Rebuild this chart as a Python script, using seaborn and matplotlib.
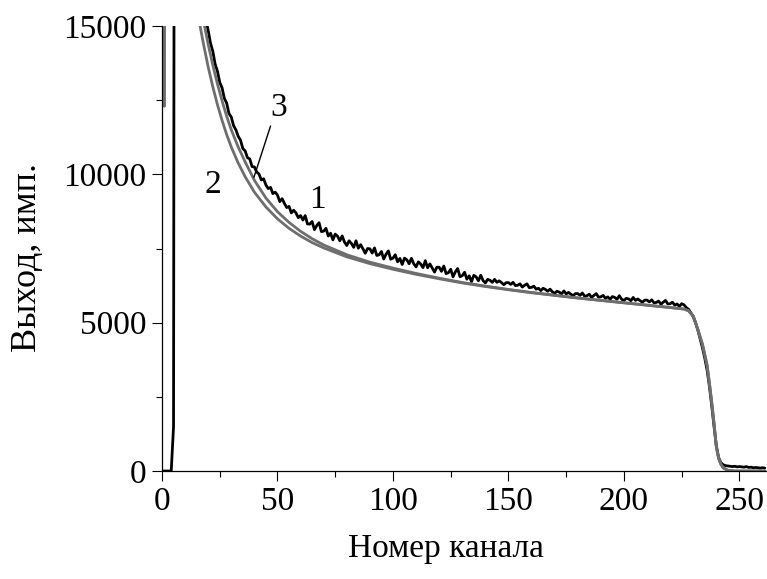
import matplotlib
matplotlib.use("Agg")
import matplotlib.pyplot as plt
import seaborn as sns
from matplotlib.ticker import MultipleLocator

# ---- data ----
# curve 1 (measured spectrum), one value per channel 0..261
channels = list(range(262))
curve1 = [
    0, 0, 0, 0, 0, 1500, 70000, 58000, 48000, 41000,
    35000, 30500, 26500, 23300, 20800, 18800, 17300, 16200, 15600, 15200,
    14850, 14420, 14150, 13720, 13480, 13100, 12920, 12560, 12400, 12050,
    11930, 11640, 11500, 11280, 11150, 10870, 10790, 10560, 10520, 10260,
    10250, 10080, 10010, 9810, 9850, 9640, 9520, 9560, 9350, 9400,
    9300, 9080, 9180, 9020, 8880, 8920, 8700, 8790, 8700, 8540,
    8610, 8460, 8610, 8325, 8325, 8410, 8135, 8275, 8370, 8070,
    8085, 8180, 7920, 8015, 7790, 7985, 7915, 7760, 7925, 7720,
    7600, 7760, 7670, 7540, 7760, 7510, 7630, 7490, 7340, 7500,
    7490, 7345, 7520, 7265, 7290, 7400, 7145, 7305, 7420, 7140,
    7175, 7290, 7050, 7165, 6960, 7175, 7120, 6985, 7170, 6985,
    6880, 7050, 6975, 6855, 7090, 6850, 6980, 6845, 6705, 6870,
    6870, 6730, 6910, 6655, 6685, 6800, 6545, 6710, 6825, 6550,
    6585, 6700, 6465, 6580, 6380, 6595, 6545, 6410, 6600, 6420,
    6340, 6460, 6430, 6360, 6460, 6360, 6410, 6350, 6280, 6350,
    6350, 6290, 6360, 6250, 6260, 6310, 6200, 6260, 6310, 6180,
    6190, 6230, 6130, 6160, 6080, 6160, 6120, 6060, 6130, 6040,
    5990, 6060, 6030, 5970, 6070, 5970, 6020, 5960, 5910, 5980,
    5980, 5920, 6000, 5890, 5910, 5960, 5850, 5920, 5980, 5860,
    5870, 5920, 5820, 5870, 5790, 5880, 5850, 5790, 5910, 5790,
    5750, 5820, 5800, 5740, 5850, 5750, 5800, 5740, 5690, 5760,
    5760, 5700, 5770, 5670, 5680, 5730, 5620, 5690, 5750, 5630,
    5640, 5690, 5590, 5630, 5550, 5640, 5600, 5510, 5450, 5330,
    5200, 5000, 4750, 4450, 4150, 3800, 3400, 2850, 2200, 1500,
    850, 450, 280, 210, 180, 170, 160, 150, 160, 140,
    150, 140, 130, 150, 120, 130, 110, 120, 110, 100,
    110, 100,
]

# curves 2 and 3 (calculated, smooth)
calc_channels = [1, 2, 6, 10, 13, 14, 16, 18, 20, 22,
                 24, 26, 28, 30, 33, 36, 40, 45, 50, 55,
                 60, 65, 70, 80, 90, 100, 110, 120, 130, 140,
                 150, 160, 170, 180, 190, 200, 210, 220, 226, 228,
                 230, 232, 234, 235, 236, 237, 238, 239, 240, 241,
                 242, 243, 245, 248, 261]
curve2 = [12300, 60000, 40000, 26000, 19000, 17300, 15200, 14380, 13620, 12950,
          12350, 11820, 11340, 10920, 10380, 9920, 9400, 8900, 8500, 8180,
          7920, 7700, 7520, 7220, 6990, 6800, 6630, 6480, 6340, 6220,
          6110, 6010, 5920, 5830, 5750, 5670, 5590, 5510, 5460, 5400,
          5220, 4750, 4250, 3900, 3550, 2950, 2300, 1600, 800, 420,
          220, 100, 20, 0, 0]
curve3 = [12300, 62000, 42000, 28000, 20500, 18500, 16000, 15160, 14380, 13680,
          13050, 12480, 11960, 11500, 10920, 10420, 9800, 9200, 8740, 8380,
          8080, 7830, 7620, 7290, 7040, 6840, 6660, 6500, 6355, 6232,
          6120, 6018, 5925, 5834, 5752, 5670, 5590, 5510, 5460, 5400,
          5230, 4780, 4280, 3930, 3580, 2980, 2330, 1620, 820, 430,
          230, 110, 25, 0, 0]

x_ticks = [0, 50, 100, 150, 200, 250]
y_ticks = [0, 5000, 10000, 15000]
x_label = "Номер канала"
y_label = "Выход, имп."

# ---- drawing ----
sns.set_style("ticks")
plt.rcParams["font.family"] = ["Liberation Serif", "DejaVu Serif"]
for key in ("text.color", "axes.labelcolor", "xtick.color", "ytick.color",
            "axes.edgecolor"):
    plt.rcParams[key] = "black"

fig = plt.figure(figsize=(7.67, 5.79), dpi=100)
ax = fig.add_axes([0.2112, 0.1865, 0.789, 0.7686])

gray = "#6e6e6e"
sns.lineplot(x=channels, y=curve1, color="black", lw=2.0, ax=ax)
sns.lineplot(x=calc_channels, y=curve2, color=gray, lw=2.0, ax=ax)
sns.lineplot(x=calc_channels, y=curve3, color=gray, lw=2.0, ax=ax)

ax.set_xlim(0, 262)
ax.set_ylim(0, 15000)
ax.set_xticks(x_ticks)
ax.set_yticks(y_ticks)
ax.xaxis.set_minor_locator(MultipleLocator(25))
ax.yaxis.set_minor_locator(MultipleLocator(2500))
ax.tick_params(which="major", direction="out", length=7, width=0.8,
               labelsize=24, pad=4, color="black", labelcolor="black")
ax.tick_params(which="minor", direction="out", length=4, width=0.8, color="black")
sns.despine(ax=ax)
for s in ("left", "bottom"):
    ax.spines[s].set_linewidth(0.9)
    ax.spines[s].set_color("black")

ax.set_xlabel(x_label, fontsize=24, color="black")
ax.set_ylabel(y_label, fontsize=26, color="black")
ax.xaxis.set_label_coords(0.47, -0.14)
ax.yaxis.set_label_coords(-0.195, 0.48)

ax.text(67.1, 9135, "1", ha="center", va="center", fontsize=24)
ax.text(22.1, 9640, "2", ha="center", va="center", fontsize=24)
ax.text(50.6, 12240, "3", ha="center", va="center", fontsize=24)
ax.plot([47.0, 39.8], [11630, 9900], color="black", lw=1.0)

fig.savefig("out.png", dpi=100)
